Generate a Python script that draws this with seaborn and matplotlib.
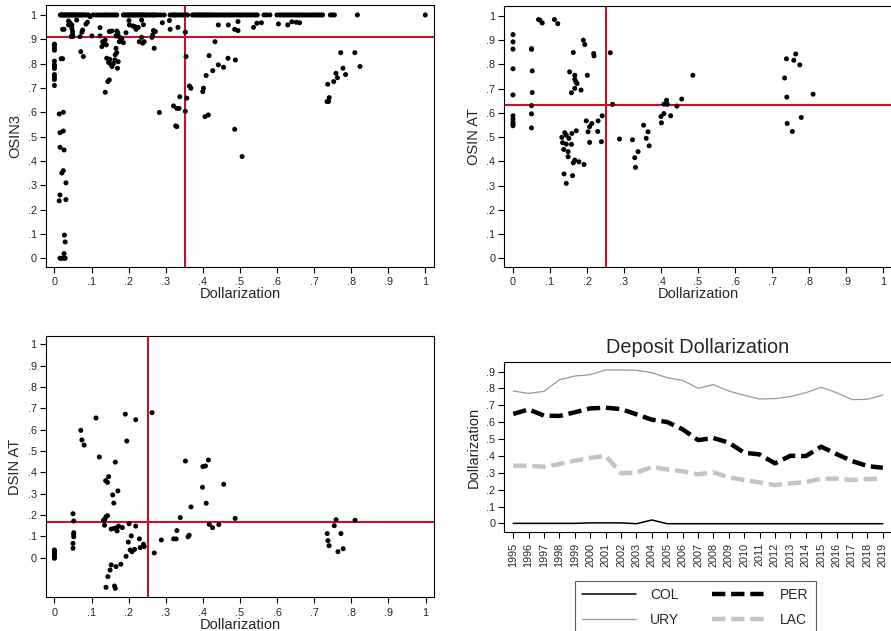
import matplotlib
matplotlib.use("Agg")
import matplotlib.pyplot as plt
import pandas as pd
import seaborn as sns

# ---- data ----
# top left: OSIN3 vs dollarization
tl_band_x = [0.016, 0.019, 0.021, 0.024, 0.027, 0.029, 0.032, 0.035, 0.037, 0.040, 0.043, 0.046,
             0.049, 0.052, 0.054, 0.057, 0.061, 0.064, 0.067, 0.071, 0.074, 0.078, 0.082, 0.086,
             0.092, 0.104, 0.112, 0.118, 0.124, 0.131, 0.137, 0.141, 0.146, 0.152, 0.158, 0.163,
             0.168, 0.186, 0.190, 0.193, 0.197, 0.200, 0.203, 0.207, 0.210, 0.214, 0.218, 0.221,
             0.225, 0.229, 0.232, 0.236, 0.240, 0.244, 0.248, 0.252, 0.257, 0.262, 0.266, 0.270,
             0.275, 0.281, 0.288, 0.296, 0.312, 0.318, 0.322, 0.326, 0.331, 0.336, 0.342, 0.348,
             0.354, 0.359, 0.372, 0.377, 0.381, 0.385, 0.389, 0.393, 0.397, 0.401, 0.405, 0.409,
             0.413, 0.417, 0.421, 0.425, 0.430, 0.435, 0.440, 0.446, 0.452, 0.458, 0.463, 0.469,
             0.474, 0.480, 0.486, 0.492, 0.498, 0.503, 0.509, 0.515, 0.520, 0.526, 0.531, 0.537,
             0.542, 0.547, 0.565, 0.572, 0.581, 0.600, 0.606, 0.611, 0.617, 0.622, 0.628, 0.633,
             0.639, 0.644, 0.650, 0.656, 0.661, 0.667, 0.672, 0.678, 0.684, 0.690, 0.696, 0.701,
             0.707, 0.712, 0.718, 0.723, 0.744, 0.749, 0.755, 0.817, 1.000]
tl_x = [0.0, 0.0, 0.0, 0.0, 0.0, 0.0, 0.0, 0.0, 0.0, 0.0, 0.0, 0.0,
        0.018, 0.022, 0.013, 0.024, 0.015, 0.024, 0.015, 0.026, 0.020, 0.024, 0.031, 0.015,
        0.013, 0.031, 0.027, 0.029, 0.026, 0.015, 0.020, 0.026, 0.029,
        0.022, 0.026, 0.038, 0.042, 0.047, 0.038, 0.047, 0.049, 0.049, 0.049, 0.045, 0.060,
        0.069, 0.074, 0.076, 0.085, 0.089, 0.096, 0.101, 0.071, 0.078,
        0.123, 0.128, 0.130, 0.134, 0.137, 0.140, 0.141, 0.146, 0.149, 0.150, 0.155, 0.159,
        0.163, 0.164, 0.168, 0.166, 0.170, 0.172, 0.137, 0.144, 0.148, 0.148, 0.155, 0.166,
        0.168, 0.171, 0.174, 0.179, 0.175, 0.182, 0.186, 0.193, 0.202, 0.201, 0.211, 0.217,
        0.220, 0.226, 0.229, 0.235, 0.235, 0.240, 0.242, 0.238, 0.222, 0.217, 0.123,
        0.263, 0.267, 0.272, 0.269, 0.265, 0.291, 0.283, 0.312, 0.310, 0.333, 0.353, 0.355,
        0.353, 0.321, 0.330, 0.336, 0.338, 0.327, 0.330, 0.357, 0.364, 0.368,
        0.400, 0.402, 0.406, 0.415, 0.409, 0.427, 0.433, 0.417, 0.442, 0.442, 0.456, 0.468,
        0.469, 0.486, 0.488, 0.486, 0.495, 0.495, 0.506, 0.537, 0.546, 0.558, 0.604, 0.629,
        0.640, 0.652, 0.661,
        0.735, 0.739, 0.741, 0.737, 0.753, 0.759, 0.763, 0.772, 0.778, 0.785, 0.810, 0.824]
tl_y = [0.880, 0.875, 0.865, 0.855, 0.810, 0.795, 0.790, 0.780, 0.755, 0.745, 0.735, 0.710,
        0.820, 0.820, 0.593, 0.600, 0.516, 0.523, 0.456, 0.445, 0.350, 0.360, 0.310, 0.260,
        0.236, 0.241, 0.095, 0.067, 0.019, 0.0, 0.0, 0.0, 0.0,
        0.941, 0.941, 0.975, 0.968, 0.959, 0.959, 0.945, 0.932, 0.921, 0.911, 0.911, 0.979,
        0.911, 0.929, 0.938, 0.962, 0.970, 0.993, 0.914, 0.849, 0.829,
        0.914, 0.870, 0.890, 0.884, 0.897, 0.877, 0.822, 0.805, 0.818, 0.801, 0.788, 0.800,
        0.815, 0.836, 0.845, 0.863, 0.781, 0.808, 0.682, 0.726, 0.733, 0.932, 0.934, 0.914,
        0.934, 0.927, 0.911, 0.897, 0.890, 0.904, 0.886, 0.927, 0.959, 0.977, 0.955, 0.952,
        0.941, 0.949, 0.890, 0.979, 0.908, 0.960, 0.890, 0.884, 0.948, 0.950, 0.948,
        0.908, 0.936, 0.932, 0.863, 0.918, 0.968, 0.599, 0.941, 0.977, 0.949, 0.929, 0.829,
        0.604, 0.626, 0.616, 0.616, 0.664, 0.544, 0.541, 0.658, 0.708, 0.699,
        0.685, 0.699, 0.582, 0.589, 0.751, 0.771, 0.890, 0.833, 0.795, 0.959, 0.785, 0.822,
        0.959, 0.530, 0.815, 0.941, 0.936, 0.973, 0.418, 0.949, 0.966, 0.968, 0.963, 0.959,
        0.972, 0.970, 0.968,
        0.644, 0.644, 0.660, 0.715, 0.726, 0.760, 0.742, 0.845, 0.781, 0.755, 0.845, 0.788]
tl_x = tl_x + tl_band_x
tl_y = tl_y + [1.0] * len(tl_band_x)
tl_vline, tl_hline = 0.352, 0.910

# top right: OSIN AT vs dollarization
tr_x = [0.0, 0.0, 0.0, 0.0, 0.0, 0.0, 0.0, 0.0, 0.0, 0.0,
        0.050, 0.050, 0.052, 0.052, 0.050, 0.050, 0.050,
        0.069, 0.073, 0.079, 0.112, 0.121,
        0.163, 0.153, 0.167, 0.167, 0.170, 0.173, 0.167, 0.158, 0.184, 0.201, 0.190, 0.194,
        0.218, 0.219,
        0.132, 0.134, 0.137, 0.140, 0.144, 0.144, 0.149, 0.149, 0.151, 0.159, 0.158, 0.171,
        0.167, 0.163, 0.178, 0.192, 0.138, 0.144, 0.161,
        0.198, 0.203, 0.207, 0.207, 0.213, 0.230, 0.229, 0.241, 0.239, 0.263, 0.269,
        0.288, 0.323, 0.329, 0.331, 0.338, 0.353, 0.360, 0.365, 0.368,
        0.400, 0.401, 0.408, 0.408, 0.415, 0.417, 0.426, 0.443, 0.456, 0.486,
        0.734, 0.739, 0.740, 0.741, 0.755, 0.759, 0.764, 0.775, 0.779, 0.811]
tr_y = [0.923, 0.893, 0.863, 0.782, 0.674, 0.588, 0.574, 0.562, 0.554, 0.547,
        0.865, 0.862, 0.773, 0.684, 0.630, 0.596, 0.538,
        0.985, 0.982, 0.971, 0.985, 0.968,
        0.849, 0.769, 0.755, 0.739, 0.728, 0.721, 0.701, 0.683, 0.694, 0.755, 0.900, 0.882,
        0.845, 0.835,
        0.499, 0.477, 0.449, 0.518, 0.508, 0.471, 0.440, 0.419, 0.495, 0.515, 0.470, 0.526,
        0.405, 0.394, 0.398, 0.387, 0.348, 0.309, 0.341,
        0.567, 0.522, 0.543, 0.478, 0.556, 0.567, 0.523, 0.588, 0.481, 0.848, 0.635,
        0.492, 0.489, 0.415, 0.375, 0.440, 0.549, 0.495, 0.522, 0.464,
        0.585, 0.559, 0.597, 0.636, 0.652, 0.635, 0.588, 0.628, 0.657, 0.755,
        0.744, 0.823, 0.665, 0.556, 0.523, 0.817, 0.843, 0.798, 0.581, 0.677]
tr_vline, tr_hline = 0.25, 0.632

# bottom left: DSIN AT vs dollarization
bl_x = [0.0, 0.0, 0.0, 0.0, 0.0, 0.0,
        0.050, 0.052, 0.052, 0.052, 0.052, 0.050, 0.050,
        0.071, 0.074, 0.080, 0.112, 0.121,
        0.132, 0.136, 0.139, 0.143, 0.135, 0.138, 0.143, 0.146, 0.157, 0.160, 0.164, 0.171,
        0.153, 0.160, 0.169, 0.169, 0.173, 0.183, 0.201, 0.219, 0.191, 0.195, 0.219,
        0.199, 0.207, 0.204, 0.209, 0.216, 0.229, 0.231, 0.240, 0.242, 0.193,
        0.166, 0.153, 0.179, 0.150, 0.144, 0.139, 0.162, 0.164,
        0.263, 0.269, 0.288, 0.321, 0.328, 0.330, 0.339, 0.360, 0.363, 0.368, 0.353,
        0.399, 0.400, 0.407, 0.409, 0.415, 0.417, 0.426, 0.443, 0.456, 0.487,
        0.735, 0.737, 0.740, 0.754, 0.759, 0.764, 0.772, 0.778, 0.810]
bl_y = [0.036, 0.028, 0.020, 0.013, 0.005, -0.003,
        0.206, 0.172, 0.117, 0.109, 0.098, 0.067, 0.044,
        0.597, 0.552, 0.528, 0.655, 0.472,
        0.175, 0.181, 0.192, 0.197, 0.152, 0.361, 0.353, 0.380, 0.294, 0.256, 0.448, 0.313,
        0.134, 0.137, 0.142, 0.125, 0.148, 0.141, 0.159, 0.148, 0.673, 0.547, 0.647,
        0.073, 0.102, 0.036, 0.028, 0.039, 0.088, 0.047, 0.063, 0.052, 0.006,
        -0.042, -0.034, -0.031, -0.058, -0.089, -0.139, -0.133, -0.144,
        0.680, 0.022, 0.083, 0.088, 0.088, 0.127, 0.188, 0.098, 0.105, 0.238, 0.453,
        0.330, 0.427, 0.430, 0.255, 0.458, 0.156, 0.141, 0.155, 0.344, 0.184,
        0.113, 0.080, 0.056, 0.150, 0.178, 0.028, 0.113, 0.042, 0.175]
bl_vline, bl_hline = 0.252, 0.169

# bottom right: deposit dollarization by year
years = list(range(1995, 2020))
col = [0.0, 0.0, 0.0, 0.0, 0.0, 0.003, 0.003, 0.003, -0.002, 0.020, -0.002, -0.002, -0.002,
       -0.002, -0.002, -0.002, -0.002, -0.002, -0.002, -0.002, -0.002, -0.002, -0.002, -0.002, -0.002]
per = [0.649, 0.676, 0.639, 0.637, 0.659, 0.682, 0.686, 0.678, 0.647, 0.615, 0.601, 0.558, 0.494,
       0.506, 0.479, 0.419, 0.409, 0.356, 0.401, 0.399, 0.455, 0.411, 0.370, 0.340, 0.330]
ury = [0.785, 0.771, 0.783, 0.852, 0.874, 0.882, 0.910, 0.910, 0.908, 0.894, 0.864, 0.848, 0.801,
       0.823, 0.785, 0.759, 0.738, 0.740, 0.752, 0.775, 0.807, 0.775, 0.734, 0.736, 0.761]
lac = [0.342, 0.342, 0.336, 0.352, 0.372, 0.388, 0.401, 0.297, 0.301, 0.334, 0.320, 0.309, 0.291,
       0.303, 0.273, 0.257, 0.243, 0.227, 0.237, 0.245, 0.265, 0.265, 0.257, 0.263, 0.265]

RED = "#c8102e"
tick_vals = [0, 0.1, 0.2, 0.3, 0.4, 0.5, 0.6, 0.7, 0.8, 0.9, 1]
tick_labs = ["0", ".1", ".2", ".3", ".4", ".5", ".6", ".7", ".8", ".9", "1"]

sns.set_style("white")
plt.rcParams["font.family"] = ["Liberation Sans", "DejaVu Sans"]

fig = plt.figure(figsize=(8.91, 6.31), dpi=100)


def style_axes(ax):
    for s in ax.spines.values():
        s.set_color("black")
        s.set_linewidth(0.8)
    ax.tick_params(direction="out", length=4, width=0.8, color="black",
                   labelsize=7.8, bottom=True, left=True)
    ax.tick_params(axis="x", pad=3.5)
    ax.tick_params(axis="y", pad=2.5)


def scatter_panel(rect, xs, ys, ylab, vline, hline, ylo):
    ax = fig.add_axes(rect)
    df = pd.DataFrame({"x": xs, "y": ys})
    sns.scatterplot(data=df, x="x", y="y", ax=ax, color="black", s=13,
                    edgecolor="none", linewidth=0, zorder=3)
    ax.axvline(vline, color=RED, lw=1.5, zorder=2)
    ax.axhline(hline, color=RED, lw=1.5, zorder=2)
    ax.set_xlim(-0.0235, 1.0235)
    ax.set_ylim(ylo, 1.041)
    ax.set_xticks(tick_vals)
    ax.set_xticklabels(tick_labs)
    ax.set_yticks(tick_vals)
    ax.set_yticklabels(tick_labs)
    ax.set_xlabel("Dollarization", fontsize=10.5, labelpad=0)
    ax.set_ylabel(ylab, fontsize=10.5, labelpad=4)
    style_axes(ax)
    return ax


scatter_panel([0.0513, 0.5769, 0.4358, 0.4152], tl_x, tl_y, "OSIN3", tl_vline, tl_hline, -0.036)
scatter_panel([0.566, 0.5769, 0.4348, 0.4136], tr_x, tr_y, "OSIN AT", tr_vline, tr_hline, -0.036)
scatter_panel([0.0513, 0.0534, 0.4361, 0.4146], bl_x, bl_y, "DSIN AT", bl_vline, bl_hline, -0.186)

# line panel
ax = fig.add_axes([0.566, 0.1564, 0.4348, 0.2704])
lines = pd.DataFrame({"year": years, "COL": col, "PER": per, "URY": ury, "LAC": lac})
sns.lineplot(data=lines, x="year", y="COL", ax=ax, color="black", lw=1.1, label="COL")
sns.lineplot(data=lines, x="year", y="URY", ax=ax, color="#999999", lw=0.9, label="URY")
sns.lineplot(data=lines, x="year", y="PER", ax=ax, color="black", lw=3.2, label="PER",
             dashes=False)
sns.lineplot(data=lines, x="year", y="LAC", ax=ax, color="#c4c4c4", lw=3.2, label="LAC",
             dashes=False)
ax.lines[2].set_dashes((3, 1.3))
ax.lines[3].set_dashes((3, 1.3))
ax.set_xlim(1994.42, 2019.58)
ax.set_ylim(-0.053, 0.959)
ax.set_xticks(years)
ax.set_xticklabels([str(y) for y in years], rotation=90)
ax.set_yticks([0, 0.1, 0.2, 0.3, 0.4, 0.5, 0.6, 0.7, 0.8, 0.9])
ax.set_yticklabels(["0", ".1", ".2", ".3", ".4", ".5", ".6", ".7", ".8", ".9"])
ax.set_xlabel("")
ax.set_ylabel("Dollarization", fontsize=10.5, labelpad=4)
ax.set_title("Deposit Dollarization", fontsize=14.3, pad=6)
style_axes(ax)
h, l = ax.get_legend_handles_labels()
leg = ax.legend(h, l, ncol=2, loc="upper center", bbox_to_anchor=(0.493, -0.285),
                borderaxespad=0, frameon=True, fancybox=False, fontsize=10,
                handlelength=3.9, columnspacing=2.4, handletextpad=1.0, borderpad=0.5,
                labelspacing=0.8)
leg.get_frame().set_edgecolor("#333333")
leg.get_frame().set_linewidth(0.8)

fig.savefig("out.png", dpi=100)
